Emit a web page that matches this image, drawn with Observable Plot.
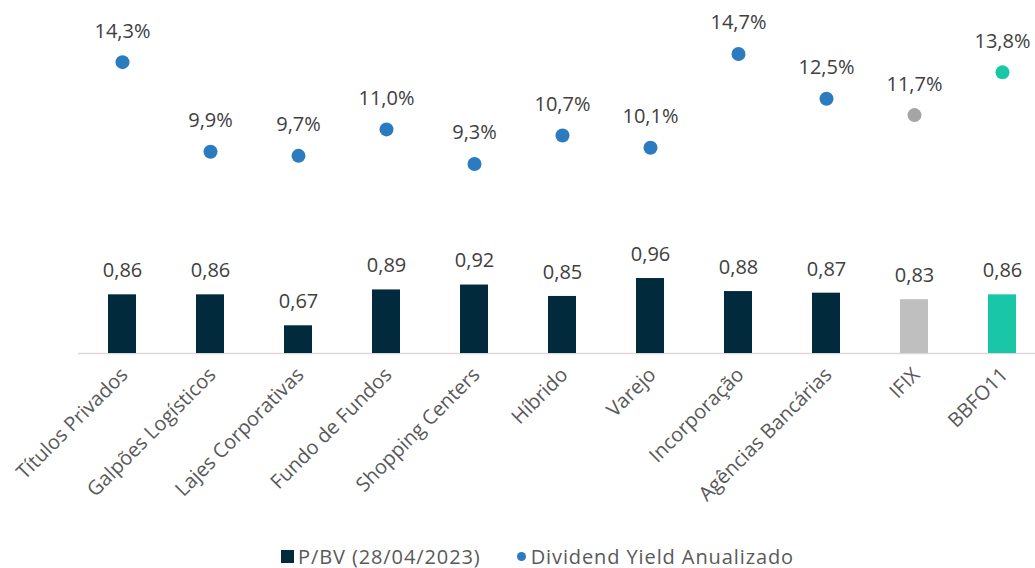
<!DOCTYPE html>
<html>
<head>
<meta charset="utf-8">
<script src="https://cdn.jsdelivr.net/npm/d3@7"></script>
<script src="https://cdn.jsdelivr.net/npm/@observablehq/plot@0.6"></script>
<style>
  html, body { margin: 0; padding: 0; background: #fff; }
  #chart { width: 1035px; }
  .legend { display: flex; justify-content: center; align-items: center; font-family: "Open Sans", sans-serif; font-size: 20px; letter-spacing: 0.9px; color: #595959; height: 30px; margin-top: 5px; margin-left: 40px; }
  .legend .item { display: flex; align-items: center; }
  .sw { display: inline-block; width: 13px; height: 13px; background: #012B3D; margin-right: 4px; }
  .dot { display: inline-block; width: 9px; height: 9px; border-radius: 50%; background: #2B7BC0; margin-right: 5px; }
</style>
</head>
<body>
<div id="chart"></div>
<script>
const categories = ["Títulos Privados", "Galpões Logísticos", "Lajes Corporativas", "Fundo de Fundos", "Shopping Centers", "Híbrido", "Varejo", "Incorporação", "Agências Bancárias", "IFIX", "BBFO11"];
const pbv = [0.86, 0.86, 0.67, 0.89, 0.92, 0.85, 0.96, 0.88, 0.87, 0.83, 0.86];
const dy = [14.3, 9.9, 9.7, 11.0, 9.3, 10.7, 10.1, 14.7, 12.5, 11.7, 13.8];
const barColors = ["#012B3D","#012B3D","#012B3D","#012B3D","#012B3D","#012B3D","#012B3D","#012B3D","#012B3D","#BFBFBF","#1AC6A8"];
const dotColors = ["#2B7BC0","#2B7BC0","#2B7BC0","#2B7BC0","#2B7BC0","#2B7BC0","#2B7BC0","#2B7BC0","#2B7BC0","#A5A5A5","#1AC6A8"];

// Secondary axis: P/BV 0.5–2.5 mapped onto DY 0–16%
const pbvMin = 0.5, pbvMax = 2.5, dyMax = 16;
const toDY = v => (v - pbvMin) / (pbvMax - pbvMin) * dyMax;

const data = categories.map((c, i) => ({cat: c, pbv: pbv[i], dy: dy[i], bc: barColors[i], dc: dotColors[i]}));
const fmt = (v, d) => v.toFixed(d).replace(".", ",");

const font = "Open Sans, sans-serif";
const chart = Plot.plot({
  width: 1035,
  height: 536,
  marginTop: 27,
  marginBottom: 183,
  marginLeft: 78,
  marginRight: 0,
  style: {fontFamily: font, fontSize: "20px", color: "#404040", background: "#fff"},
  x: {domain: categories, range: [78, 1046], padding: 0, label: null},
  y: {domain: [0, dyMax], axis: null},
  color: {type: "identity"},
  marks: [
    Plot.ruleY([0], {stroke: "#D9D9D9", strokeWidth: 1.5}),
    Plot.barY(data, {x: "cat", y1: 0, y2: d => toDY(d.pbv), fill: "bc", insetLeft: 30, insetRight: 30}),
    Plot.text(data, {x: "cat", y: d => toDY(d.pbv), text: d => fmt(d.pbv, 2), dy: -24, fill: "#404040", fontSize: 20, style: {letterSpacing: "0.5px"}}),
    Plot.dot(data, {x: "cat", y: "dy", r: 7, fill: "dc", stroke: "none"}),
    Plot.text(data, {x: "cat", y: "dy", text: d => fmt(d.dy, 1) + "%", dy: -31, fill: "#404040", fontSize: 20}),
    Plot.axisX({tickSize: 0, tickPadding: 18, dx: 2, tickRotate: -45, fontSize: 20, fill: "#595959", label: null})
  ]
});
document.getElementById("chart").appendChild(chart);

const legend = document.createElement("div");
legend.className = "legend";
legend.innerHTML = '<span class="item"><span class="sw"></span>P/BV (28/04/2023)</span><span class="item" style="margin-left:36px"><span class="dot"></span>Dividend Yield Anualizado</span>';
document.getElementById("chart").appendChild(legend);
</script>
</body>
</html>
